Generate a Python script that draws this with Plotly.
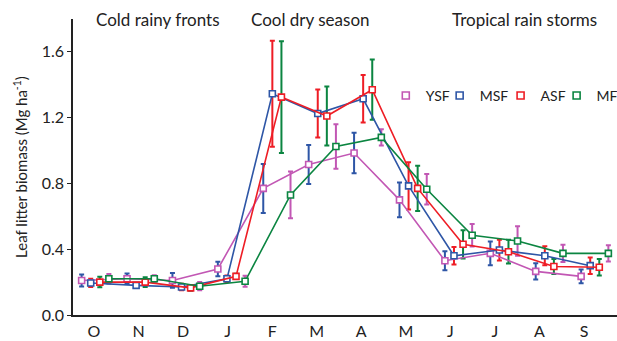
import plotly.graph_objects as go

# Sampling months (Oct -> Sep)
months = ["O", "N", "D", "J", "F", "M", "A", "M", "J", "J", "A", "S"]
series_names = ["YSF", "MSF", "ASF", "MF"]

# Leaf litter biomass (Mg ha-1) per stand type
ysf = [0.21, 0.22, 0.21, 0.28, 0.77, 0.915, 0.985, 0.70, 0.33, 0.375, 0.265, 0.235]
msf = [0.195, 0.18, 0.17, 0.22, 1.345, 1.225, 1.315, 0.785, 0.36, 0.395, 0.36, 0.30]
asf = [0.20, 0.20, 0.165, 0.235, 1.325, 1.21, 1.37, 0.77, 0.43, 0.385, 0.295, 0.29]
mf = [0.22, 0.22, 0.175, 0.205, 0.73, 1.025, 1.08, 0.765, 0.485, 0.45, 0.375, 0.375]

# Standard errors
err_msf = [0.037, 0.032, 0.045, 0.044, 0.149, 0.119, 0.123, 0.105, 0.058, 0.072, 0.049, 0.042]
err_asf = [0.025, 0.015, 0.02, 0.02, 0.322, 0.146, 0.145, 0.144, 0.053, 0.063, 0.058, 0.05]
err_mf = [0.032, 0.03, 0.018, 0.016, 0.34, 0.18, 0.183, 0.137, 0.086, 0.072, 0.046, 0.05]
err_ysf = [0.03, 0.022, 0.025, 0.033, 0.142, 0.135, 0.049, 0.093, 0.068, 0.09, 0.052, 0.049]

seasons = ["Cold rainy fronts", "Cool dry season", "Tropical rain storms"]

colors = {"YSF": "#C257B4", "MSF": "#2E56A6", "ASF": "#EE1D25", "MF": "#0B8541"}
values = {"YSF": ysf, "MSF": msf, "ASF": asf, "MF": mf}
# each stand is drawn slightly shifted within its month
offsets = {"YSF": -0.3, "MSF": -0.1, "ASF": 0.1, "MF": 0.3}

def xs(name):
    return [i + offsets[name] for i in range(len(months))]

FONT = "Lato"
fig = go.Figure()

# error bars (colour, drawn on the points of)
bars = [("MSF", "YSF", err_msf), ("ASF", "MSF", err_asf),
        ("MF", "ASF", err_mf), ("YSF", "MF", err_ysf)]
for col, host, err in bars:
    fig.add_trace(go.Scatter(
        x=xs(host), y=values[host], mode="markers",
        marker=dict(size=1, opacity=0),
        error_y=dict(type="data", array=err, color=colors[col],
                     thickness=2, width=2.5),
        showlegend=False, hoverinfo="skip"))

for name in series_names:
    fig.add_trace(go.Scatter(
        x=xs(name), y=values[name], mode="lines+markers",
        line=dict(color=colors[name], width=1.6),
        marker=dict(symbol="square", size=6, color="white",
                    line=dict(color=colors[name], width=1.6)),
        showlegend=False, name=name))

# one small legend per stand, laid out in a row
legend_ids = ["legend", "legend2", "legend3", "legend4"]
legend_x = [0.575, 0.674, 0.786, 0.889]
for name, lid in zip(series_names, legend_ids):
    fig.add_trace(go.Scatter(
        x=[None], y=[None], mode="markers", name=name, legend=lid,
        showlegend=True,
        marker=dict(symbol="square", size=7, color="white",
                    line=dict(color=colors[name], width=1.6))))

legend_layout = {}
for lid, lx in zip(legend_ids, legend_x):
    legend_layout[lid] = dict(x=lx, y=0.74, xanchor="left", yanchor="middle",
                              bgcolor="rgba(0,0,0,0)", font=dict(size=14),
                              itemwidth=30)

tick_pos = [-0.028 + i * 0.981 for i in range(len(months))]

fig.update_layout(
    width=617, height=341,
    margin=dict(l=73, r=0, t=19, b=26, autoexpand=False),
    plot_bgcolor="white", paper_bgcolor="white",
    font=dict(family=FONT, size=16, color="#222222"),
    showlegend=True,
    xaxis=dict(range=[-0.49, 11.49], tickvals=tick_pos, ticktext=months,
               automargin=False,
               showgrid=False, zeroline=False, showline=True,
               linecolor="#222222", linewidth=1.5,
               ticks="outside", ticklen=1, tickcolor="rgba(0,0,0,0)"),
    yaxis=dict(range=[0, 1.8], tickvals=[0, 0.4, 0.8, 1.2, 1.6],
               automargin=False,
               tickformat=".1f", showgrid=False, zeroline=False,
               showline=True, linecolor="#222222", linewidth=1.5,
               ticks="outside", ticklen=4, tickwidth=1, tickcolor="#222222",
               title=dict(text="Leaf litter biomass (Mg ha<sup>-1</sup>)",
                          font=dict(size=15), standoff=10)),
    **legend_layout,
)

season_x = [1.38, 4.73, 9.46]
for label, sx in zip(seasons, season_x):
    fig.add_annotation(x=sx, xref="x", y=1, yref="paper", yanchor="middle",
                       text=label, showarrow=False,
                       font=dict(size=17, family=FONT, color="#222222"))

fig.write_html("out.html")
